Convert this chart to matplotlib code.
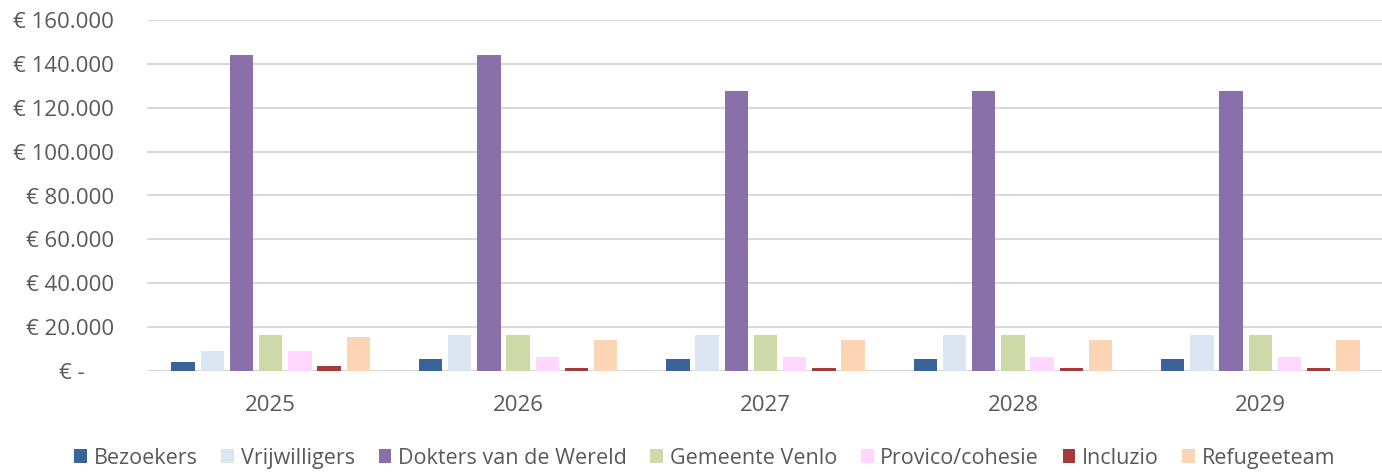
import matplotlib
matplotlib.use("Agg")
import matplotlib.pyplot as plt
import numpy as np
from matplotlib.ticker import FuncFormatter

years = ["2025", "2026", "2027", "2028", "2029"]
series = ["Bezoekers", "Vrijwilligers", "Dokters van de Wereld", "Gemeente Venlo",
          "Provico/cohesie", "Incluzio", "Refugeeteam"]
bezoekers = [4300, 5300, 5300, 5300, 5300]
vrijwilligers = [9200, 16400, 16400, 16400, 16400]
dokters = [144000, 144000, 127700, 127700, 127700]
gemeente = [16400, 16400, 16400, 16400, 16400]
provico = [9200, 6200, 6200, 6200, 6200]
incluzio = [2200, 1400, 1400, 1400, 1400]
refugeeteam = [15300, 14300, 14300, 14300, 14300]

values = [bezoekers, vrijwilligers, dokters, gemeente, provico, incluzio, refugeeteam]
colors = ["#3A6399", "#DCE6F2", "#8970AA", "#CDDAA7", "#FFD6FF", "#A23B3A", "#FCD5B5"]

plt.rcParams["font.family"] = ["Open Sans", "DejaVu Sans"]
text_color = "#595959"

fig = plt.figure(figsize=(13.82, 4.73), dpi=100)
ax = fig.add_axes([147 / 1382, 1 - 371 / 473, (1384 - 147) / 1382, 351 / 473])

x = np.arange(len(years))
pitch = 0.118
width = 0.094
for i, (name, vals, c) in enumerate(zip(series, values, colors)):
    ax.bar(x + (i - 3) * pitch, vals, width, color=c, label=name, zorder=3)

ax.set_xlim(-0.5, len(years) - 0.5)
ax.set_ylim(0, 160000)
ax.set_yticks(np.arange(0, 160001, 20000))

def euro(v, pos):
    if v == 0:
        return "€ -     "
    return "€ " + f"{int(v):,}".replace(",", ".")

ax.yaxis.set_major_formatter(FuncFormatter(euro))
ax.set_xticks(x)
ax.set_xticklabels(years)
ax.grid(axis="y", color="#D9D9D9", linewidth=1.5, zorder=0)
for s in ax.spines.values():
    s.set_visible(False)
ax.tick_params(axis="y", length=0, pad=24, labelsize=16, labelcolor=text_color)
ax.tick_params(axis="x", length=0, pad=17, labelsize=16, labelcolor=text_color)

fig.legend(loc="lower center", ncol=7, frameon=False, bbox_to_anchor=(0.51, -0.032),
           fontsize=15.5, labelcolor=text_color, handlelength=0.6, handleheight=0.6,
           handletextpad=0.3, columnspacing=1.1)

fig.savefig("out.png", dpi=100)
